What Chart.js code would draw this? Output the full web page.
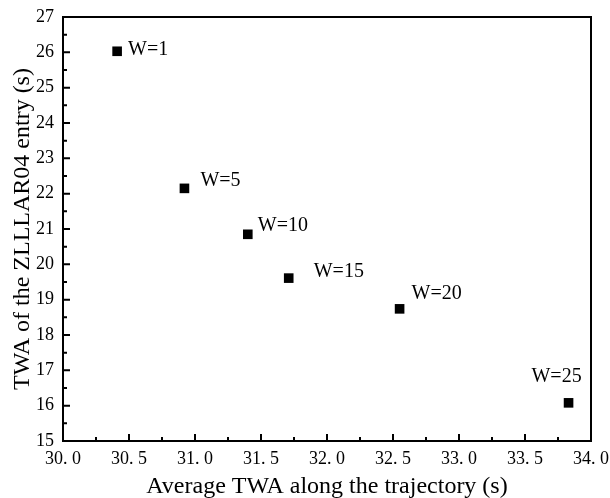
<!DOCTYPE html>
<html>
<head>
<meta charset="utf-8">
<script src="https://cdn.jsdelivr.net/npm/chart.js@4.4.0/dist/chart.umd.min.js"></script>
<style>
  html, body { margin: 0; padding: 0; background: #ffffff; }
  #wrap { width: 610px; height: 498px; }
</style>
</head>
<body>
<div id="wrap"><canvas id="chart"></canvas></div>
<script>
// Data
const avgTwa = [30.41, 30.92, 31.40, 31.71, 32.55, 33.83];
const entryTwa = [26.03, 22.15, 20.85, 19.61, 18.74, 16.08];
const pointLabels = ['W=1', 'W=5', 'W=10', 'W=15', 'W=20', 'W=25'];
const xTickLabels = ['30. 0', '30. 5', '31. 0', '31. 5', '32. 0', '32. 5', '33. 0', '33. 5', '34. 0'];
const yTickLabels = ['15', '16', '17', '18', '19', '20', '21', '22', '23', '24', '25', '26', '27'];

const SERIF = "'Liberation Serif', 'DejaVu Serif', serif";

// where each W label sits relative to its point (dx to text left / centre, dy to text middle)
const labelOffsets = [
  { dx: 11, dy: -2, align: 'left' },
  { dx: 16, dy: -8, align: 'left' },
  { dx: 10, dy: -9, align: 'left' },
  { dx: 25, dy: -6, align: 'left' },
  { dx: 12, dy: -15, align: 'left' },
  { dx: -12, dy: -26, align: 'center' }
];

// box frame + inward major/minor ticks
const frameTicks = {
  id: 'frameTicks',
  afterDraw(chart) {
    const ctx = chart.ctx;
    const a = chart.chartArea;
    const xs = chart.scales.x;
    const ys = chart.scales.y;
    ctx.save();
    ctx.strokeStyle = '#000';
    ctx.lineWidth = 2;
    ctx.strokeRect(a.left, a.top, a.right - a.left, a.bottom - a.top);

    ctx.beginPath();
    const xt = xs.ticks.map(t => t.value);
    xt.forEach((v, i) => {
      const px = xs.getPixelForValue(v);
      ctx.moveTo(px, a.bottom);
      ctx.lineTo(px, a.bottom - 7);
      if (i < xt.length - 1) {
        const mx = xs.getPixelForValue((v + xt[i + 1]) / 2);
        ctx.moveTo(mx, a.bottom);
        ctx.lineTo(mx, a.bottom - 4);
      }
    });
    const yt = ys.ticks.map(t => t.value);
    yt.forEach((v, i) => {
      const py = ys.getPixelForValue(v);
      ctx.moveTo(a.left, py);
      ctx.lineTo(a.left + 7, py);
      if (i < yt.length - 1) {
        const my = ys.getPixelForValue((v + yt[i + 1]) / 2);
        ctx.moveTo(a.left, my);
        ctx.lineTo(a.left + 4, my);
      }
    });
    ctx.stroke();
    ctx.restore();
  }
};

const wLabels = {
  id: 'wLabels',
  afterDatasetsDraw(chart) {
    const ctx = chart.ctx;
    const meta = chart.getDatasetMeta(0);
    ctx.save();
    ctx.fillStyle = '#000';
    ctx.font = '20px ' + SERIF;
    ctx.textBaseline = 'middle';
    meta.data.forEach((pt, i) => {
      const off = labelOffsets[i];
      ctx.textAlign = off.align;
      ctx.fillText(pointLabels[i], pt.x + off.dx, pt.y + off.dy);
    });
    ctx.restore();
  }
};

new Chart(document.getElementById('chart'), {
  type: 'scatter',
  data: {
    datasets: [{
      data: avgTwa.map((x, i) => ({ x: x, y: entryTwa[i] })),
      pointStyle: 'rect',
      pointRadius: 6.8,
      pointHoverRadius: 6.8,
      backgroundColor: '#000',
      borderColor: '#000',
      borderWidth: 0
    }]
  },
  options: {
    responsive: true,
    maintainAspectRatio: false,
    animation: false,
    layout: { padding: { top: 17, right: 19, left: 0, bottom: 0 } },
    plugins: {
      legend: { display: false },
      tooltip: { enabled: false }
    },
    scales: {
      x: {
        type: 'linear',
        min: 30,
        max: 34,
        grid: { display: false, drawTicks: false },
        border: { display: false },
        ticks: {
          stepSize: 0.5,
          padding: 7,
          color: '#000',
          font: { family: SERIF, size: 18 },
          callback: (v, i) => xTickLabels[i]
        },
        title: {
          display: true,
          text: 'Average TWA along the trajectory (s)',
          color: '#000',
          font: { family: SERIF, size: 24, lineHeight: 0.92 },
          padding: { top: 0, bottom: 0 }
        },
        afterFit(scale) {
          scale.height = 57;
          scale.paddingLeft = 0;
          scale.paddingRight = 0;
        }
      },
      y: {
        type: 'linear',
        min: 15,
        max: 27,
        grid: { display: false, drawTicks: false },
        border: { display: false },
        ticks: {
          stepSize: 1,
          padding: 9,
          color: '#000',
          font: { family: SERIF, size: 18 },
          callback: (v, i) => yTickLabels[i]
        },
        title: {
          display: true,
          text: 'TWA of the ZLLLAR04 entry (s)',
          color: '#000',
          font: { family: SERIF, size: 24, lineHeight: 0.92 },
          padding: { top: 12, bottom: 0 }
        },
        afterFit(scale) {
          scale.width = 63;
          scale.paddingTop = 0;
          scale.paddingBottom = 0;
        }
      }
    }
  },
  plugins: [frameTicks, wLabels]
});
</script>
</body>
</html>
